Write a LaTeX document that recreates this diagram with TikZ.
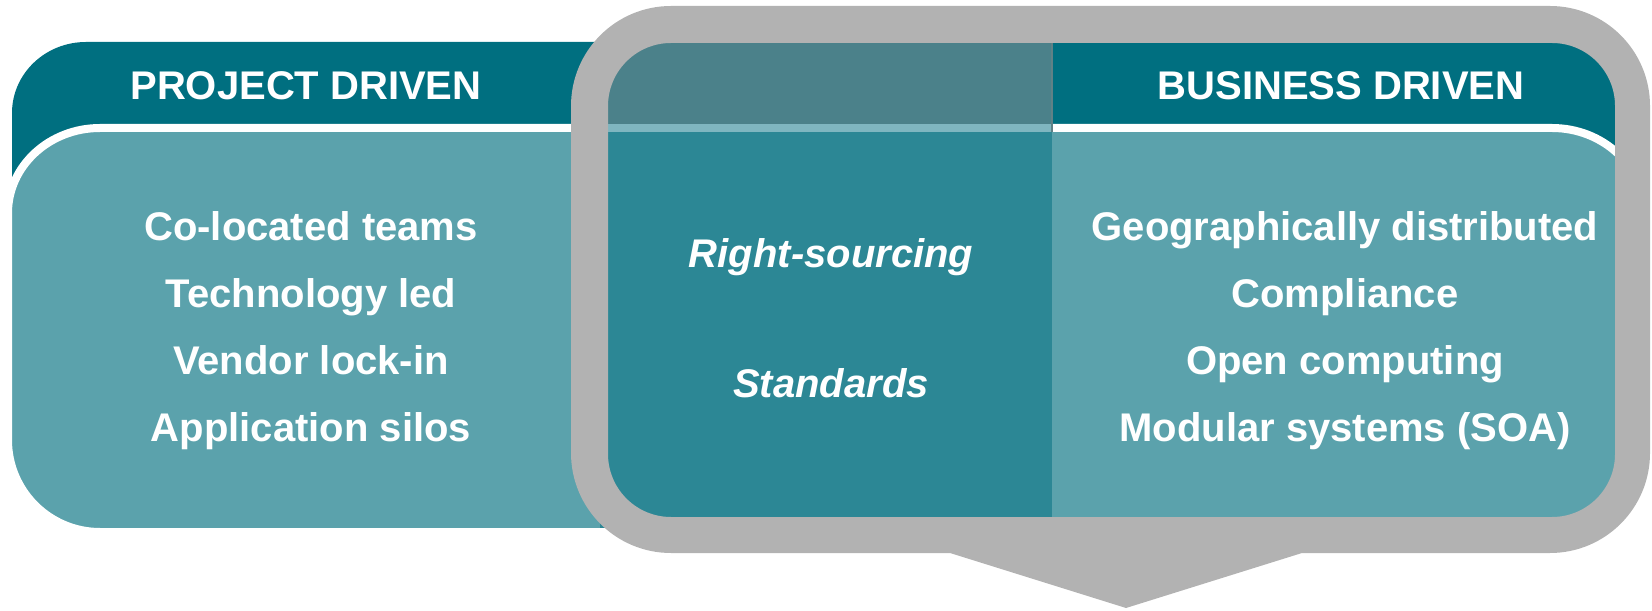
\documentclass[tikz,border=0pt]{standalone}
\usepackage{fontspec}
\setmainfont{Liberation Sans}
\usepackage{tikz}
\usetikzlibrary{calc}

\definecolor{headteal}{RGB}{0,111,128}
\definecolor{bodyteal}{RGB}{91,162,172}
\definecolor{midhead}{RGB}{75,129,138}
\definecolor{midline}{RGB}{127,182,192}
\definecolor{midbody}{RGB}{44,135,149}
\definecolor{framegray}{RGB}{178,178,178}

\begin{document}
\begin{tikzpicture}[x=0.5pt,y=0.5pt] %% two panels and a callout frame
	\tikzstyle{headtext}=[text=white, anchor=base, inner sep=0pt, font=\bfseries\fontsize{20}{24}\selectfont]
	\tikzstyle{listtext}=[headtext]
	\tikzstyle{midtext}=[headtext, font=\bfseries\itshape\fontsize{20}{24}\selectfont]
	\tikzstyle{panelbody}=[fill=bodyteal, draw=white, line width=4pt]
	\useasboundingbox (0,0) rectangle (1652,610);
	% left panel, cut at its left edge
	\begin{scope}
		\clip (12,0) rectangle (1000,610);
		\fill[headteal] (700,300) -- (12,300) -- (12,497) arc[start angle=180,end angle=90,x radius=74,y radius=71] -- (700,568) -- cycle;
		\path[panelbody] (700,482) -- (100,482) arc[start angle=90,end angle=180,x radius=92,y radius=85] -- (8,170) arc[start angle=180,end angle=270,radius=92] -- (700,78) -- cycle;
	\end{scope}
	% right panel
	\fill[headteal] (952,300) -- (1640,300) -- (1640,497) arc[start angle=0,end angle=90,x radius=74,y radius=71] -- (952,568) -- cycle;
	\path[panelbody] (952,482) -- (1552,482) arc[start angle=90,end angle=0,x radius=92,y radius=85] -- (1644,170) arc[start angle=0,end angle=-90,radius=92] -- (952,78) -- cycle;
	% overlap
	\fill[midhead] (600,486) rectangle (1052,570);
	\fill[midline] (600,478) rectangle (1052,486);
	\fill[midbody] (600,82) rectangle (1052,478);
	\draw[midhead!60!gray, line width=0.6pt] (1052,478) -- (1052,567);
	% callout frame
	\fill[framegray, even odd rule]
		(671,604) -- (1550,604) arc[start angle=90,end angle=0,radius=100] -- (1650,157) arc[start angle=0,end angle=-90,radius=100]
		-- (1302,57) -- (1126,2) -- (950,57) -- (671,57) arc[start angle=270,end angle=180,radius=100] -- (571,504) arc[start angle=180,end angle=90,radius=100] -- cycle
		(671,567) -- (1552,567) arc[start angle=90,end angle=0,radius=63] -- (1615,156) arc[start angle=0,end angle=-90,radius=63]
		-- (671,93) arc[start angle=270,end angle=180,radius=63] -- (608,504) arc[start angle=180,end angle=90,radius=63] -- cycle;
	% texts
	\node[headtext] (projhead) at (306,510) {PROJECT DRIVEN};
	\node[headtext] (busihead) at (1341,510) {BUSINESS DRIVEN};
	\foreach \txt [count=\i] in {Co-located teams, Technology led, Vendor lock-in, Application silos}
		\node[listtext] (proj\i) at (311,436-67*\i) {\txt};
	\foreach \txt [count=\i] in {Geographically distributed, Compliance, Open computing, Modular systems (SOA)}
		\node[listtext] (busi\i) at (1345,436-67*\i) {\txt};
	\node[midtext] (rightsrc) at (831,342) {Right-sourcing};
	\node[midtext] (stds) at (831,212) {Standards};
\end{tikzpicture}
\end{document}
